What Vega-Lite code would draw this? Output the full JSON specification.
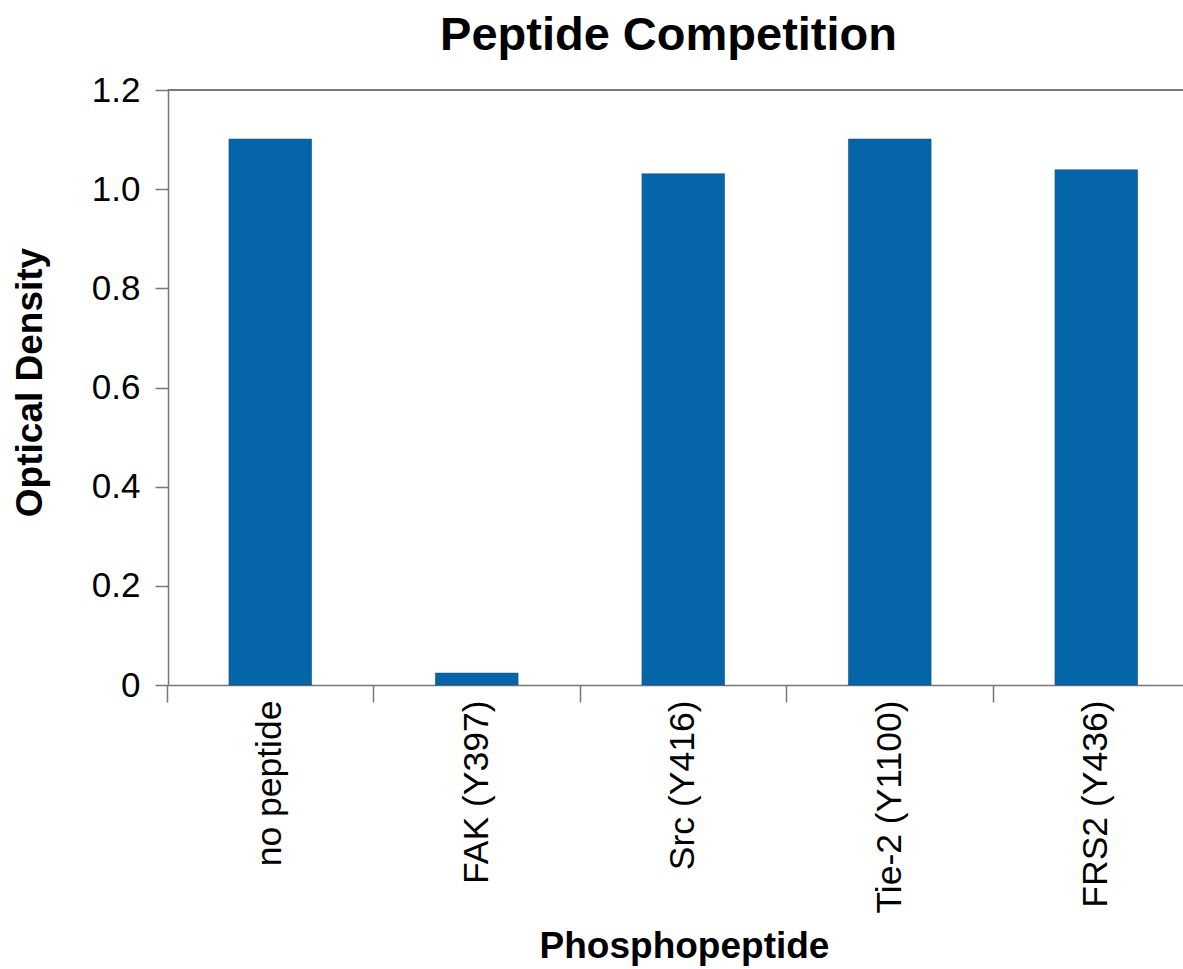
{
  "$schema": "https://vega.github.io/schema/vega-lite/v6.json",
  "width": 1015,
  "height": 595,
  "autosize": {"type": "none"},
  "padding": {"left": 168, "top": 90, "right": 0, "bottom": 284},
  "background": "white",
  "config": {
    "font": "Liberation Sans",
    "view": {"stroke": null}
  },
  "title": {
    "text": "Peptide Competition",
    "fontSize": 47,
    "fontWeight": "bold",
    "font": "Liberation Sans",
    "color": "#000",
    "anchor": "middle",
    "offset": 13,
    "dx": -7
  },
  "data": {
    "values": [
      {"peptide": "no peptide", "od": 1.101},
      {"peptide": "FAK (Y397)", "od": 0.024},
      {"peptide": "Src (Y416)", "od": 1.031},
      {"peptide": "Tie-2 (Y1100)", "od": 1.101},
      {"peptide": "FRS2 (Y436)", "od": 1.039}
    ]
  },
  "layer": [
    {
      "mark": {"type": "rule", "color": "#7a7a7a", "strokeWidth": 1.5},
      "encoding": {
        "y": {"datum": 1.2, "type": "quantitative", "scale": {"domain": [0, 1.2]}}
      }
    },
    {
      "mark": {"type": "bar", "color": "#0565a9", "stroke": "#1d4f78", "strokeWidth": 0.6},
      "encoding": {
        "x": {
          "field": "peptide",
          "type": "nominal",
          "sort": null,
          "scale": {"paddingInner": 0.6, "paddingOuter": 0.2576, "align": 0.573},
          "axis": {
            "title": "Phosphopeptide",
            "titleFontSize": 37,
            "titleFontWeight": "bold",
            "titleColor": "#000",
            "titlePadding": 43,
            "titleX": 516,
            "labelAngle": -90,
            "labelFontSize": 35.5,
            "labelColor": "#000",
            "labelPadding": -2,
            "labelLimit": 0,
            "bandPosition": -0.75,
            "tickSize": 17,
            "tickColor": "#777",
            "tickWidth": 1.5,
            "domainColor": "#777",
            "domainWidth": 1.5,
            "grid": false
          }
        },
        "y": {
          "field": "od",
          "type": "quantitative",
          "scale": {"domain": [0, 1.2], "nice": false},
          "axis": {
            "title": "Optical Density",
            "titleFontSize": 37,
            "titleFontWeight": "bold",
            "titleColor": "#000",
            "titlePadding": 42,
            "titleY": 292,
            "values": [0, 0.2, 0.4, 0.6, 0.8, 1.0, 1.2],
            "labelExpr": "datum.value == 0 ? '0' : format(datum.value, '.1f')",
            "labelFontSize": 35,
            "labelColor": "#000",
            "labelPadding": 15,
            "tickSize": 13,
            "tickColor": "#777",
            "tickWidth": 1.5,
            "domainColor": "#777",
            "domainWidth": 1.5,
            "grid": false
          }
        }
      }
    }
  ]
}
